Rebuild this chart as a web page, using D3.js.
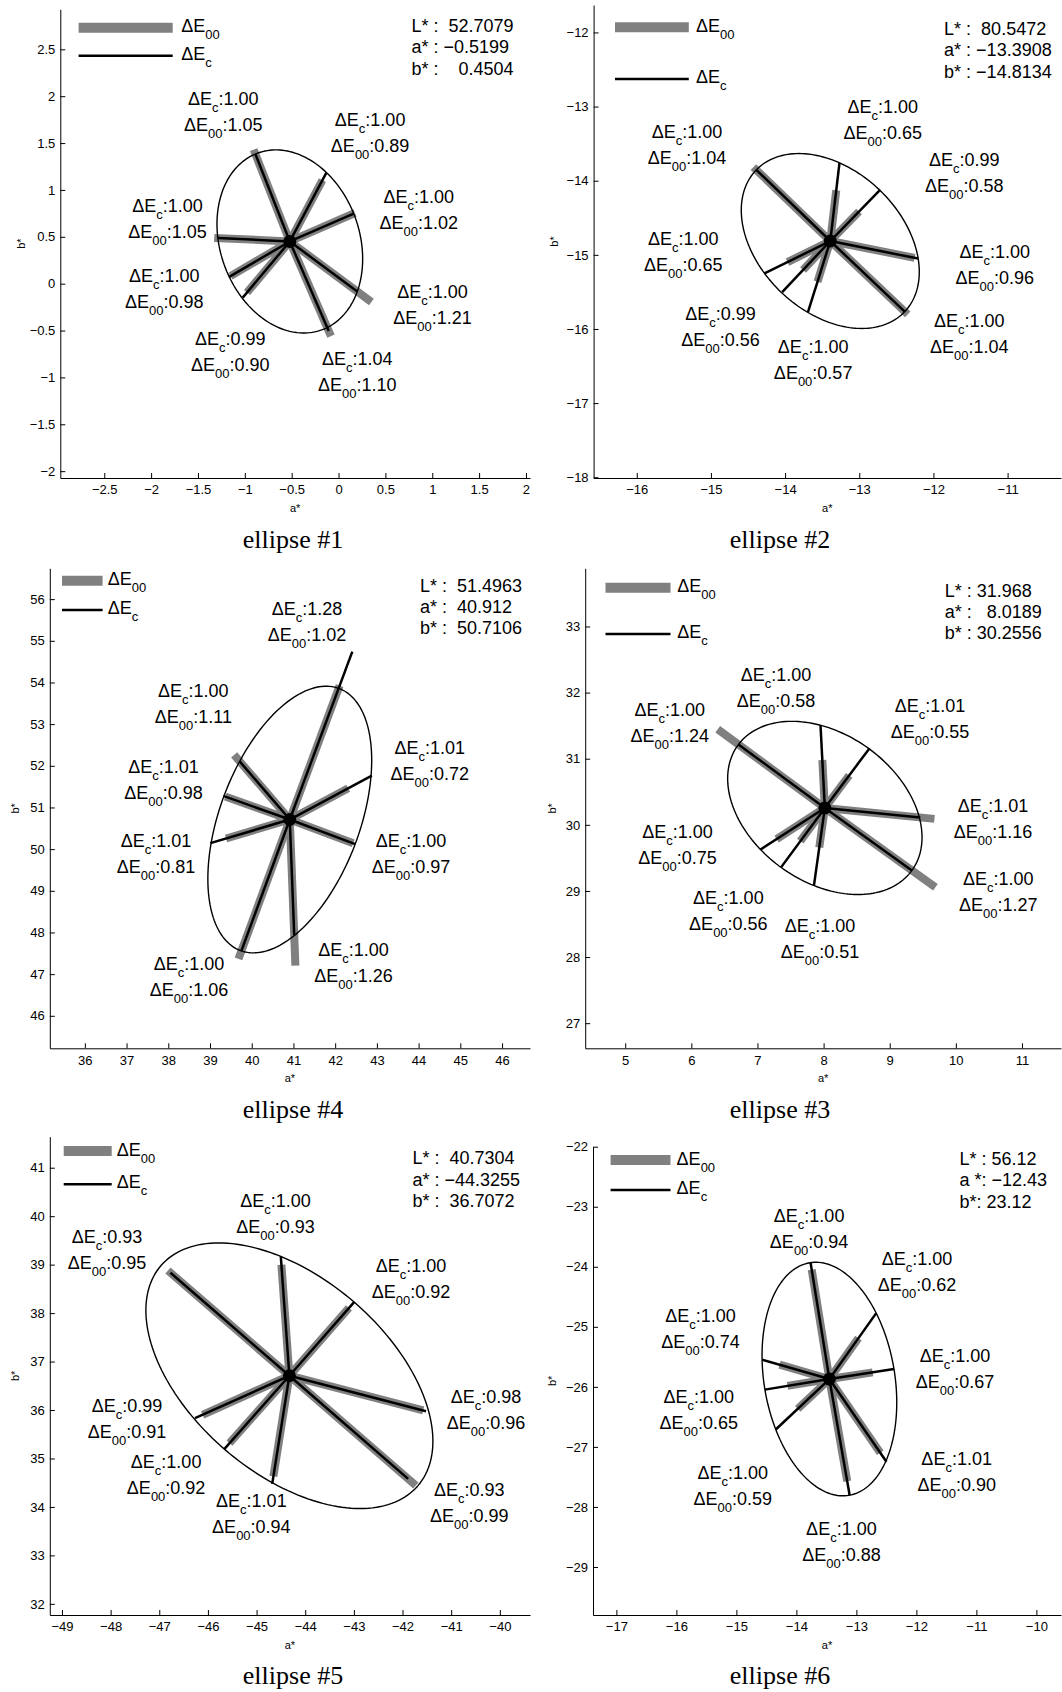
<!DOCTYPE html>
<html>
<head>
<meta charset="utf-8">
<script src="https://cdn.jsdelivr.net/npm/d3@7"></script>
<style>
  body { margin: 0; background: #fff; }
  svg text { font-family: 'Liberation Sans', Arial, Helvetica, sans-serif; fill: #000; }
</style>
</head>
<body>
<div id="chart"></div>
<script>
// ---------------------------------- DATA ---------------------------------- //

let panel_names = ['ellipse #1', 'ellipse #2', 'ellipse #4', 'ellipse #3', 'ellipse #5', 'ellipse #6'];

let info_text = [
  ['L* :  52.7079', 'a* : −0.5199', 'b* :    0.4504'],
  ['L* :  80.5472', 'a* : −13.3908', 'b* : −14.8134'],
  ['L* :  51.4963', 'a* :  40.912', 'b* :  50.7106'],
  ['L* : 31.968', 'a* :   8.0189', 'b* : 30.2556'],
  ['L* :  40.7304', 'a* : −44.3255', 'b* :  36.7072'],
  ['L* : 56.12', 'a *: −12.43', 'b*: 23.12']
];

// colour centre, as plotted (a*, b*)
let centers = [[-0.5199, 0.4504], [-13.3908, -14.8134], [40.912, 50.7106], [8.0189, 30.2556], [-44.3255, 36.7072], [-13.45, -25.87]];

// ellipse semi axes (major, minor) and tilt of the major axis in degrees
let ellipse_axes = [[1.003, 0.743], [1.384, 0.957], [3.36, 1.675], [1.621, 1.117], [3.483, 2.02], [1.964, 1.089]];
let ellipse_tilt = [-70.2, -43.6, 69.4, -35.6, -40.75, -80.4];

// direction of each of the 8 test rays (degrees in the a*b* plane)
let ray_angles = [
  [111.5, 62.0, 23.6, 177.3, 210.3, 230, -36.6, -66.5],
  [136.1, 83.3, 45.7, -11.3, -43.5, 206.2, 226.8, 252.6],
  [69.6, 130.7, 160.4, 196.6, 249.8, -87.8, -20.6, 28.2],
  [143.7, 93, 53.2, -5.7, -35.7, 262, 233.6, 212.9],
  [139, 94.1, 48.8, -14.6, -41.1, 261, 228.5, 204.3],
  [99.2, 54.6, 8.8, -55.4, -80.1, 223.2, 189.3, 163.9]
];

let delta_ec = [
  [1.00, 1.00, 1.00, 1.00, 1.00, 0.99, 1.00, 1.04],
  [1.00, 1.00, 0.99, 1.00, 1.00, 1.00, 0.99, 1.00],
  [1.28, 1.00, 1.01, 1.01, 1.00, 1.00, 1.00, 1.01],
  [1.00, 1.00, 1.01, 1.01, 1.00, 1.00, 1.00, 1.00],
  [0.93, 1.00, 1.00, 0.98, 0.93, 1.01, 1.00, 0.99],
  [1.00, 1.00, 1.00, 1.01, 1.00, 1.00, 1.00, 1.00]
];

let delta_e00 = [
  [1.05, 0.89, 1.02, 1.05, 0.98, 0.90, 1.21, 1.10],
  [1.04, 0.65, 0.58, 0.96, 1.04, 0.65, 0.56, 0.57],
  [1.02, 1.11, 0.98, 0.81, 1.06, 1.26, 0.97, 0.72],
  [1.24, 0.58, 0.55, 1.16, 1.27, 0.51, 0.56, 0.75],
  [0.95, 0.93, 0.92, 0.96, 0.99, 0.94, 0.92, 0.91],
  [0.94, 0.62, 0.67, 0.90, 0.88, 0.59, 0.65, 0.74]
];

// where each ray's annotation sits (a*, b*)
let label_at = [
  [[-1.230, 1.906], [0.337, 1.682], [0.855, 0.858], [-1.824, 0.768], [-1.860, 0.021], [-1.155, -0.654], [1.002, -0.156], [0.200, -0.867]],
  [[-15.323, -13.425], [-12.682, -13.088], [-11.585, -13.808], [-11.173, -15.045], [-11.516, -15.968], [-15.374, -14.865], [-14.87, -15.877], [-13.622, -16.327]],
  [[41.325, 55.616], [38.6, 53.64], [37.885, 51.832], [37.707, 50.06], [38.495, 47.11], [42.44, 47.43], [43.82, 50.06], [44.267, 52.28]],
  [[5.673, 31.649], [7.279, 32.168], [9.608, 31.714], [10.562, 30.201], [10.64, 29.092], [7.945, 28.386], [6.56, 28.805], [5.791, 29.8]],
  [[-48.073, 39.44], [-44.611, 40.196], [-41.827, 38.855], [-40.286, 36.14], [-40.628, 34.234], [-45.107, 34.007], [-46.859, 34.8], [-47.661, 35.955]],
  [[-13.788, -23.25], [-11.99, -23.972], [-11.357, -25.583], [-11.329, -27.305], [-13.25, -28.472], [-15.06, -27.527], [-15.626, -26.277], [-15.598, -24.917]]
];

let x_domains = [[-2.969, 2.043], [-16.582, -10.28], [35.16, 46.67], [4.395, 11.59], [-49.25, -39.38], [-17.39, -9.59]];
let y_domains = [[-2.073, 2.927], [-18.01, -11.63], [45.22, 56.74], [26.62, 33.88], [31.77, 41.64], [-29.8, -22.0]];

let x_ticks = [
  [-2.5, -2, -1.5, -1, -0.5, 0, 0.5, 1, 1.5, 2],
  [-16, -15, -14, -13, -12, -11],
  [36, 37, 38, 39, 40, 41, 42, 43, 44, 45, 46],
  [5, 6, 7, 8, 9, 10, 11],
  [-49, -48, -47, -46, -45, -44, -43, -42, -41, -40],
  [-17, -16, -15, -14, -13, -12, -11, -10]
];
let y_ticks = [
  [-2, -1.5, -1, -0.5, 0, 0.5, 1, 1.5, 2, 2.5],
  [-18, -17, -16, -15, -14, -13, -12],
  [46, 47, 48, 49, 50, 51, 52, 53, 54, 55, 56],
  [27, 28, 29, 30, 31, 32, 33],
  [32, 33, 34, 35, 36, 37, 38, 39, 40, 41],
  [-29, -28, -27, -26, -25, -24, -23, -22]
];

// ---------------------------------- LAYOUT ---------------------------------- //

let img_width = 1062;
let img_height = 1692;
let gray_color = '#808080';
let label_size = 18;
let sub_size = 13;
let tick_size = 13;

let boxes = [
  { left: 60.3, top: 9.3, right: 530, bottom: 478, ylab: 35 },
  { left: 593.6, top: 5, right: 1061, bottom: 478, ylab: 36 },
  { left: 49.8, top: 568.3, right: 530, bottom: 1048.3, ylab: 31 },
  { left: 585.2, top: 568.3, right: 1061, bottom: 1048.3, ylab: 29 },
  { left: 49.8, top: 1136.7, right: 530, bottom: 1615, ylab: 31 },
  { left: 593, top: 1146.7, right: 1061, bottom: 1615, ylab: 37 }
];

let legends = [
  { x0: 78.6, x1: 172.7, gy: 27.7, ky: 55.7, tx: 181.2 },
  { x0: 615, x1: 688.8, gy: 27.3, ky: 79, tx: 695.9 },
  { x0: 62, x1: 102.6, gy: 580.7, ky: 610, tx: 107.7 },
  { x0: 605.5, x1: 670.5, gy: 587.7, ky: 634, tx: 677.3 },
  { x0: 63.7, x1: 111.7, gy: 1151, ky: 1184.3, tx: 116.8 },
  { x0: 610.6, x1: 670.5, gy: 1160, ky: 1190, tx: 676.6 }
];

let infos = [
  { x: 411.4, y: 32 }, { x: 944.1, y: 35 }, { x: 420, y: 591.7 },
  { x: 944.8, y: 596.7 }, { x: 412.5, y: 1164.3 }, { x: 959.4, y: 1165 }
];

let captions = [
  { x: 293, y: 548 }, { x: 780, y: 548 }, { x: 293, y: 1118 },
  { x: 780, y: 1118 }, { x: 293, y: 1684 }, { x: 780, y: 1684 }
];

// ---------------------------------- HELPERS ---------------------------------- //

function fmtTick(d) {
  return (d < 0 ? '−' : '') + Math.abs(d);
}

function ellipsePoint(i, deg) {
  let [A, B] = ellipse_axes[i];
  let p = ellipse_tilt[i] * Math.PI / 180;
  let t = deg * Math.PI / 180;
  let [ca, cb] = centers[i];
  return [ca + A * Math.cos(t) * Math.cos(p) - B * Math.sin(t) * Math.sin(p),
          cb + A * Math.cos(t) * Math.sin(p) + B * Math.sin(t) * Math.cos(p)];
}

// distance from centre to the ellipse along a direction
function ellipseRadius(i, theta) {
  let [A, B] = ellipse_axes[i];
  let al = (theta - ellipse_tilt[i]) * Math.PI / 180;
  return 1 / Math.sqrt(Math.pow(Math.cos(al) / A, 2) + Math.pow(Math.sin(al) / B, 2));
}

function rayEnd(i, j, k) {
  let th = ray_angles[i][j];
  let r = k * ellipseRadius(i, th);
  let [ca, cb] = centers[i];
  return [ca + r * Math.cos(th * Math.PI / 180), cb + r * Math.sin(th * Math.PI / 180)];
}

function deltaText(sel, sub, value) {
  sel.append('tspan').text('ΔE');
  sel.append('tspan').attr('font-size', sub_size).attr('dy', 7).text(sub);
  sel.append('tspan').attr('dy', -7).text(value);
}

// ---------------------------------- CORE IMAGE ---------------------------------- //

let svg = d3.select('#chart')
  .append('svg')
  .attr('width', img_width)
  .attr('height', img_height);

panel_names.forEach((name, i) => drawPanel(i));

function drawPanel(i) {
  let box = boxes[i];
  let x = d3.scaleLinear().domain(x_domains[i]).range([box.left, box.right]);
  let y = d3.scaleLinear().domain(y_domains[i]).range([box.bottom, box.top]);
  let g = svg.append('g').attr('id', `panel${i}`);

  // axes
  let gx = g.append('g')
    .attr('transform', `translate(0,${box.bottom})`)
    .call(d3.axisBottom(x).tickValues(x_ticks[i]).tickFormat(fmtTick)
      .tickSizeInner(-5).tickSizeOuter(0).tickPadding(7));
  let gy = g.append('g')
    .attr('transform', `translate(${box.left},0)`)
    .call(d3.axisLeft(y).tickValues(y_ticks[i]).tickFormat(fmtTick)
      .tickSizeInner(-5).tickSizeOuter(0).tickPadding(5));
  [gx, gy].forEach(a => {
    a.attr('font-family', null).attr('font-size', null);
    a.selectAll('text').attr('font-size', tick_size);
    a.selectAll('path, line').attr('stroke', '#000').attr('stroke-width', 1);
  });

  g.append('text')
    .attr('x', (box.left + box.right) / 2)
    .attr('y', box.bottom + 33.5)
    .attr('text-anchor', 'middle')
    .attr('font-size', 11)
    .text('a*');
  g.append('text')
    .attr('transform', `translate(${box.left - box.ylab},${(box.top + box.bottom) / 2}) rotate(-90)`)
    .attr('text-anchor', 'middle')
    .attr('font-size', 11)
    .text('b*');

  // ΔE00 rays (thick gray), underneath
  let rays = d3.range(8);
  g.append('g').selectAll('line')
    .data(rays)
    .enter()
    .append('line')
    .attr('x1', x(centers[i][0]))
    .attr('y1', y(centers[i][1]))
    .attr('x2', j => x(rayEnd(i, j, delta_e00[i][j])[0]))
    .attr('y2', j => y(rayEnd(i, j, delta_e00[i][j])[1]))
    .attr('stroke', gray_color)
    .attr('stroke-width', 8);

  // ellipse outline
  let line = d3.line().x(d => x(d[0])).y(d => y(d[1]));
  g.append('path')
    .attr('d', line(d3.range(0, 361, 2).map(t => ellipsePoint(i, t))))
    .attr('fill', 'none')
    .attr('stroke', '#000')
    .attr('stroke-width', 1.4);

  // ΔEc rays (black)
  g.append('g').selectAll('line')
    .data(rays)
    .enter()
    .append('line')
    .attr('x1', x(centers[i][0]))
    .attr('y1', y(centers[i][1]))
    .attr('x2', j => x(rayEnd(i, j, delta_ec[i][j])[0]))
    .attr('y2', j => y(rayEnd(i, j, delta_ec[i][j])[1]))
    .attr('stroke', '#000')
    .attr('stroke-width', 2.5);

  g.append('circle')
    .attr('cx', x(centers[i][0]))
    .attr('cy', y(centers[i][1]))
    .attr('r', 6.5)
    .attr('fill', '#000');

  // annotations
  let labs = g.append('g').selectAll('g')
    .data(rays)
    .enter()
    .append('g');
  labs.append('text')
    .attr('x', j => x(label_at[i][j][0]))
    .attr('y', j => y(label_at[i][j][1]))
    .attr('text-anchor', 'middle')
    .attr('font-size', label_size)
    .each(function(j) { deltaText(d3.select(this), 'c', ':' + delta_ec[i][j].toFixed(2)); });
  labs.append('text')
    .attr('x', j => x(label_at[i][j][0]))
    .attr('y', j => y(label_at[i][j][1]) + 26)
    .attr('text-anchor', 'middle')
    .attr('font-size', label_size)
    .each(function(j) { deltaText(d3.select(this), '00', ':' + delta_e00[i][j].toFixed(2)); });

  // legend
  let lg = legends[i];
  g.append('line').attr('x1', lg.x0).attr('x2', lg.x1).attr('y1', lg.gy).attr('y2', lg.gy)
    .attr('stroke', gray_color).attr('stroke-width', 10);
  g.append('line').attr('x1', lg.x0).attr('x2', lg.x1).attr('y1', lg.ky).attr('y2', lg.ky)
    .attr('stroke', '#000').attr('stroke-width', 2.5);
  let t1 = g.append('text').attr('x', lg.tx).attr('y', lg.gy + 4.5).attr('font-size', label_size);
  deltaText(t1, '00', '');
  let t2 = g.append('text').attr('x', lg.tx).attr('y', lg.ky + 4).attr('font-size', label_size);
  deltaText(t2, 'c', '');

  // colour info
  g.append('g').selectAll('text')
    .data(info_text[i])
    .enter()
    .append('text')
    .attr('x', infos[i].x)
    .attr('y', (d, k) => infos[i].y + k * 21.3)
    .attr('font-size', label_size)
    .attr('xml:space', 'preserve')
    .style('white-space', 'pre')
    .text(d => d);

  // caption
  svg.append('text')
    .attr('x', captions[i].x)
    .attr('y', captions[i].y)
    .attr('text-anchor', 'middle')
    .attr('font-size', 26)
    .style('font-family', "'Liberation Serif', 'Times New Roman', serif")
    .text(panel_names[i]);
}
</script>
</body>
</html>
